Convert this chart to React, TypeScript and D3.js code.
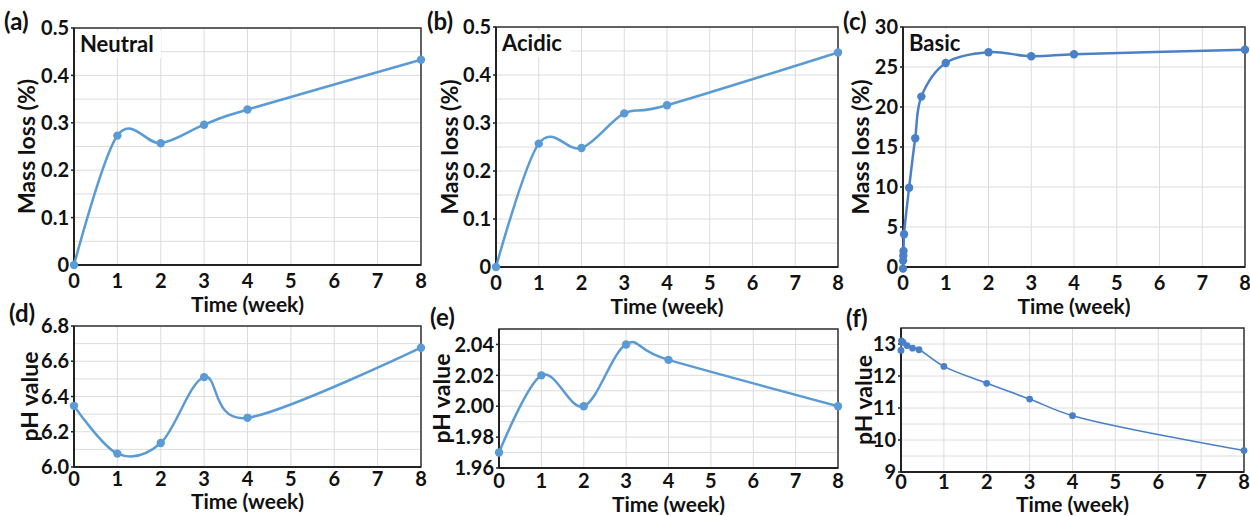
import * as d3 from "d3";

// shared x values (weeks)
const weeks = [0, 1, 2, 3, 4, 8];
const xTickValues = [0, 1, 2, 3, 4, 5, 6, 7, 8];

// mass loss (%)
const neutralLoss = [0, 0.273, 0.257, 0.296, 0.328, 0.433];
const acidicLoss = [0, 0.257, 0.248, 0.32, 0.337, 0.447];
const basicLossWeeks = [0, 0.003, 0.007, 0.012, 0.025, 0.143, 0.286, 0.429, 1, 2, 3, 4, 8];
const basicLoss = [-0.2, 0.8, 1.4, 2.0, 4.1, 9.9, 16.1, 21.3, 25.5, 26.85, 26.35, 26.6, 27.15];

// pH value
const neutralPH = [6.347, 6.076, 6.136, 6.51, 6.279, 6.677];
const acidicPH = [1.97, 2.02, 2.0, 2.04, 2.03, 2.0];
const basicPHWeeks = [0, 0.01, 0.05, 0.14, 0.27, 0.42, 1, 2, 3, 4, 8];
const basicPH = [12.8, 13.1, 13.05, 12.95, 12.87, 12.82, 12.3, 11.77, 11.28, 10.76, 9.67];

const FONT = "Lato, 'Open Sans', sans-serif";

type PanelProps = {
  tag: string;
  name?: string;
  xs: number[];
  ys: number[];
  left: number;
  right: number;
  top: number;
  bottom: number;
  yDomain: [number, number];
  yTicks: number[];
  yMinor: number[];
  fmt: (v: number) => string;
  yTitle: string;
  yTitleX: number;
  tagX: number;
  tagY: number;
  xLabelY: number;
  xTitleY: number;
  color: string;
  lineW: number;
  r: number;
  alpha: number;
};

const Panel = (p: PanelProps) => {
  const x = d3.scaleLinear().domain([0, 8]).range([p.left, p.right]);
  const y = d3.scaleLinear().domain(p.yDomain).range([p.bottom, p.top]);
  const pts: [number, number][] = p.xs.map((d, i) => [x(d), y(p.ys[i])]);
  const line = d3.line().curve(d3.curveCatmullRom.alpha(p.alpha))(pts);
  const midY = (p.top + p.bottom) / 2;

  return (
    <g>
      {p.yMinor.map((v) => (
        <line key={"h" + v} x1={p.left} x2={p.right} y1={y(v)} y2={y(v)} stroke="#dcdcdc" strokeWidth={1} />
      ))}
      {xTickValues.map((v) => (
        <line key={"v" + v} x1={x(v)} x2={x(v)} y1={p.top} y2={p.bottom} stroke="#dcdcdc" strokeWidth={1} />
      ))}
      {p.name && (
        <g>
          <rect x={p.left + 3} y={p.top + 3} width={p.name.length * 12} height={27} fill="white" />
          <text x={p.left + 6} y={p.top + 24} fontSize={22} fontWeight={700} fill="#111">
            {p.name}
          </text>
        </g>
      )}
      <rect x={p.left} y={p.top} width={p.right - p.left} height={p.bottom - p.top} fill="none" stroke="#333" strokeWidth={1.5} />
      <line x1={p.left} x2={p.left} y1={p.top} y2={p.bottom} stroke="#222" strokeWidth={2} />
      <line x1={p.left} x2={p.right} y1={p.bottom} y2={p.bottom} stroke="#222" strokeWidth={2} />
      {p.yTicks.map((v) => (
        <g key={"t" + v}>
          <line x1={p.left - 3} x2={p.left} y1={y(v)} y2={y(v)} stroke="#222" strokeWidth={1.5} />
          <text x={p.left - 5} y={y(v)} dy="0.36em" textAnchor="end" fontSize={20} fontWeight={700} fill="#111">
            {p.fmt(v)}
          </text>
        </g>
      ))}
      {xTickValues.map((v) => (
        <text key={"x" + v} x={x(v)} y={p.xLabelY} textAnchor="middle" fontSize={20} fontWeight={700} fill="#111">
          {v}
        </text>
      ))}
      <text x={(p.left + p.right) / 2} y={p.xTitleY} textAnchor="middle" fontSize={21} fontWeight={700} fill="#111">
        Time (week)
      </text>
      <text
        transform={`translate(${p.yTitleX},${midY}) rotate(-90)`}
        textAnchor="middle"
        fontSize={23}
        fontWeight={700}
        fill="#111"
      >
        {p.yTitle}
      </text>
      <text x={p.tagX} y={p.tagY} fontSize={24} fontWeight={700} fill="#111">
        {p.tag}
      </text>
      <path d={line ?? ""} fill="none" stroke={p.color} strokeWidth={p.lineW} />
      {pts.map(([cx, cy], i) => (
        <circle key={"p" + i} cx={cx} cy={cy} r={p.r} fill={p.color} />
      ))}
    </g>
  );
};

const range = (a: number, b: number, s: number) => d3.range(a, b + s / 2, s);

export default function App() {
  return (
    <svg
      width={1250}
      height={516}
      style={{ position: "absolute", left: 0, top: 0, background: "white", fontFamily: FONT }}
    >
      <Panel
        tag="(a)" name="Neutral" xs={weeks} ys={neutralLoss}
        left={74} right={421} top={28} bottom={265}
        yDomain={[0, 0.5]} yTicks={range(0, 0.5, 0.1)} yMinor={range(0, 0.5, 0.05)}
        fmt={(v) => (v === 0 ? "0" : d3.format(".1f")(v))}
        yTitle="Mass loss (%)" yTitleX={35} tagX={4} tagY={30}
        xLabelY={288} xTitleY={312} color="#5b9bd5" lineW={2.5} r={4.2} alpha={0}
      />
      <Panel
        tag="(b)" name="Acidic" xs={weeks} ys={acidicLoss}
        left={496} right={838} top={27} bottom={267}
        yDomain={[0, 0.5]} yTicks={range(0, 0.5, 0.1)} yMinor={range(0, 0.5, 0.05)}
        fmt={(v) => (v === 0 ? "0" : d3.format(".1f")(v))}
        yTitle="Mass loss (%)" yTitleX={458} tagX={427} tagY={30}
        xLabelY={290} xTitleY={314} color="#5b9bd5" lineW={2.5} r={4.2} alpha={0}
      />
      <Panel
        tag="(c)" name="Basic" xs={basicLossWeeks} ys={basicLoss}
        left={903} right={1245} top={27} bottom={267}
        yDomain={[0, 30]} yTicks={range(0, 30, 5)} yMinor={range(0, 30, 5)}
        fmt={(v) => String(v)}
        yTitle="Mass loss (%)" yTitleX={869} tagX={843} tagY={30}
        xLabelY={290} xTitleY={314} color="#4a80c8" lineW={2.5} r={4.2} alpha={0.5}
      />
      <Panel
        tag="(d)" xs={weeks} ys={neutralPH}
        left={74} right={421} top={326} bottom={467}
        yDomain={[6.0, 6.8]} yTicks={range(6.0, 6.8, 0.2)} yMinor={range(6.0, 6.8, 0.1)}
        fmt={(v) => d3.format(".1f")(v)}
        yTitle="pH value" yTitleX={38} tagX={9} tagY={322}
        xLabelY={486} xTitleY={509} color="#5b9bd5" lineW={2.5} r={4.2} alpha={0}
      />
      <Panel
        tag="(e)" xs={weeks} ys={acidicPH}
        left={499} right={838} top={329} bottom={468}
        yDomain={[1.96, 2.05]} yTicks={range(1.96, 2.04, 0.02)} yMinor={range(1.96, 2.05, 0.01)}
        fmt={(v) => d3.format(".2f")(v)}
        yTitle="pH value" yTitleX={450} tagX={430} tagY={326}
        xLabelY={488} xTitleY={512} color="#5b9bd5" lineW={2.5} r={4.2} alpha={0}
      />
      <Panel
        tag="(f)" xs={basicPHWeeks} ys={basicPH}
        left={901} right={1244} top={328} bottom={472}
        yDomain={[9, 13.5]} yTicks={range(9, 13, 1)} yMinor={range(9, 13.5, 0.5)}
        fmt={(v) => String(v)}
        yTitle="pH value" yTitleX={872} tagX={846} tagY={327}
        xLabelY={489} xTitleY={512} color="#4a80c8" lineW={1.6} r={3.4} alpha={0.5}
      />
    </svg>
  );
}
